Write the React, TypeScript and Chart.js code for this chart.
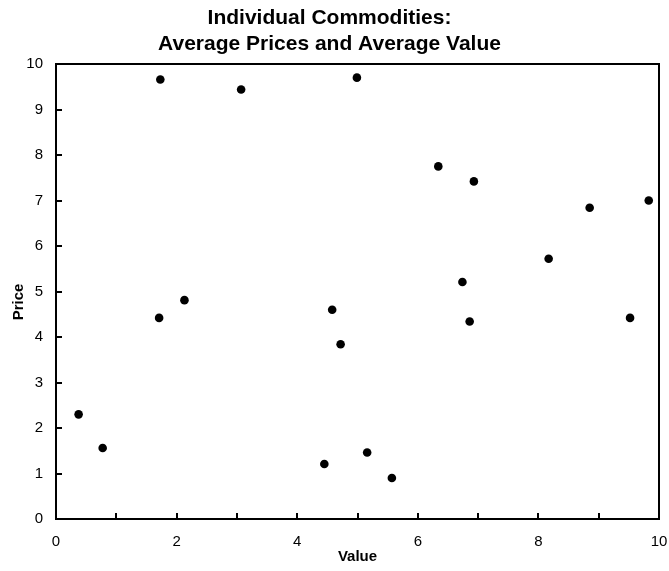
import React, { useEffect, useRef } from "react";
import { Chart, registerables } from "chart.js";

Chart.register(...registerables);

const titleLines = ["Individual Commodities:", "Average Prices and Average Value"];
const xAxisTitle = "Value";
const yAxisTitle = "Price     ";

const valueX = [1.73, 3.07, 4.99, 6.34, 6.93, 8.85, 9.83, 8.17, 6.74, 6.86, 9.52, 0.375, 0.774, 1.71, 2.13, 4.58, 4.72, 4.45, 5.16, 5.57];
const priceY = [9.66, 9.44, 9.70, 7.75, 7.42, 6.84, 7.0, 5.72, 5.21, 4.34, 4.42, 2.3, 1.56, 4.42, 4.81, 4.6, 3.84, 1.21, 1.46, 0.9];

const axisMin = 0;
const axisMax = 10;
const tickValues = [1, 2, 3, 4, 5, 6, 7, 8, 9];

const FONT = "'Liberation Sans', Arial, Helvetica, sans-serif";

const framePlugin = {
  id: "frameAndTicks",
  afterDraw(chart: any) {
    const { ctx, chartArea } = chart;
    const xs = chart.scales.x;
    const ys = chart.scales.y;
    ctx.save();
    ctx.strokeStyle = "#000";
    ctx.lineWidth = 2;
    ctx.beginPath();
    for (const v of tickValues) {
      const py = Math.round(ys.getPixelForValue(v));
      ctx.moveTo(chartArea.left, py);
      ctx.lineTo(chartArea.left + 6, py);
      const px = Math.round(xs.getPixelForValue(v));
      ctx.moveTo(px, chartArea.bottom);
      ctx.lineTo(px, chartArea.bottom - 6);
    }
    ctx.stroke();
    ctx.strokeRect(chartArea.left, chartArea.top, chartArea.right - chartArea.left, chartArea.bottom - chartArea.top);
    ctx.restore();
  },
};

export default function App() {
  const ref = useRef<HTMLCanvasElement | null>(null);
  useEffect(() => {
    if (!ref.current) return;
    const points = valueX.map((x, i) => ({ x, y: priceY[i] }));
    const chart = new Chart(ref.current, {
      type: "scatter",
      data: {
        datasets: [
          {
            label: "Commodities",
            data: points,
            backgroundColor: "#000",
            borderColor: "#000",
            borderWidth: 0,
            pointRadius: 4.3,
            pointHoverRadius: 4.3,
          },
        ],
      },
      options: {
        animation: false,
        responsive: false,
        maintainAspectRatio: false,
        layout: { padding: { left: 0, right: 10, top: 0, bottom: 0 } },
        plugins: {
          legend: { display: false },
          tooltip: { enabled: false },
          title: {
            display: true,
            text: titleLines,
            color: "#000",
            font: { family: FONT, size: 21, weight: "bold", lineHeight: 1.2 },
            padding: { top: 6, bottom: 7.6 },
          },
        },
        scales: {
          x: {
            type: "linear",
            min: axisMin,
            max: axisMax,
            grid: { display: false, drawTicks: false },
            border: { display: false },
            ticks: {
              stepSize: 1,
              autoSkip: false,
              maxRotation: 0,
              padding: 14,
              color: "#000",
              font: { family: FONT, size: 15 },
              callback: (v: any) => (Number(v) % 2 === 0 ? String(v) : ""),
            },
            title: {
              display: true,
              text: xAxisTitle,
              color: "#000",
              font: { family: FONT, size: 15, weight: "bold", lineHeight: 1.2 },
              padding: { top: 0, bottom: 5 },
            },
            afterFit: (s: any) => {
              s.height = 52;
              s.paddingLeft = 0;
              s.paddingRight = 0;
            },
          },
          y: {
            type: "linear",
            min: axisMin,
            max: axisMax,
            grid: { display: false, drawTicks: false },
            border: { display: false },
            ticks: {
              stepSize: 1,
              autoSkip: false,
              padding: 13,
              color: "#000",
              font: { family: FONT, size: 15 },
            },
            title: {
              display: true,
              text: yAxisTitle,
              color: "#000",
              font: { family: FONT, size: 15, weight: "bold", lineHeight: 1.2 },
              padding: { top: 10, bottom: 0 },
            },
            afterFit: (s: any) => {
              s.width = 56;
            },
          },
        },
      },
      plugins: [framePlugin],
    });
    return () => chart.destroy();
  }, []);
  return (
    <div style={{ position: "fixed", left: 0, top: 0, width: 669, height: 571, background: "#fff" }}>
      <canvas ref={ref} width={669} height={571} style={{ display: "block", width: 669, height: 571 }} />
    </div>
  );
}
